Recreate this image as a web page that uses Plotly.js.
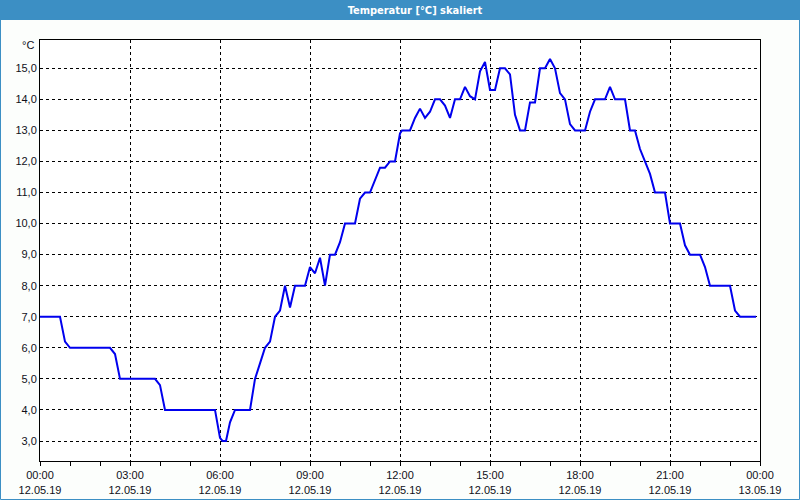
<!DOCTYPE html>
<html>
<head>
<meta charset="utf-8">
<script src="https://cdn.plot.ly/plotly-3.0.1.min.js"></script>
<style>html,body{margin:0;padding:0;background:#fcfefc;}#chart{width:800px;height:500px;}</style>
</head>
<body>
<div id="chart"></div>
<script>
// Measured series: time of day (12.05.19) and temperature in °C
const times = ['00:00','00:40','00:50','01:00','02:20','02:30','02:40','03:50','04:00','04:10',
  '05:50','06:00','06:05','06:12','06:20','06:30','07:00','07:10','07:20','07:30',
  '07:40','07:50','08:00','08:10','08:20','08:30','08:50','09:00','09:10','09:20',
  '09:30','09:40','09:50','10:00','10:10','10:30','10:40','10:50','11:00','11:20',
  '11:30','11:40','11:50','12:00','12:04','12:20','12:30','12:40','12:50','13:00',
  '13:10','13:20','13:30','13:40','13:50','14:00','14:10','14:20','14:30','14:40',
  '14:50','15:00','15:10','15:20','15:30','15:40','15:50','16:00','16:10','16:20',
  '16:30','16:40','16:50','17:00','17:10','17:20','17:30','17:40','17:50','18:10',
  '18:20','18:30','18:50','19:00','19:10','19:30','19:40','19:50','20:00','20:10',
  '20:20','20:30','20:50','21:00','21:20','21:30','21:40','22:00','22:10','22:20',
  '23:00','23:10','23:20','23:52'];
const temps = [7.0,7.0,6.2,6.0,6.0,5.8,5.0,5.0,4.8,4.0,
  4.0,3.1,3.0,3.0,3.6,4.0,4.0,5.0,5.5,6.0,
  6.2,7.0,7.2,8.0,7.3,8.0,8.0,8.6,8.4,8.9,
  8.0,9.0,9.0,9.4,10.0,10.0,10.8,11.0,11.0,11.8,
  11.8,12.0,12.0,12.9,13.0,13.0,13.4,13.7,13.4,13.6,
  14.0,14.0,13.8,13.4,14.0,14.0,14.4,14.1,14.0,14.9,
  15.2,14.3,14.3,15.0,15.0,14.8,13.5,13.0,13.0,13.9,
  13.9,15.0,15.0,15.3,15.0,14.2,14.0,13.2,13.0,13.0,
  13.6,14.0,14.0,14.4,14.0,14.0,13.0,13.0,12.4,12.0,
  11.6,11.0,11.0,10.0,10.0,9.3,9.0,9.0,8.6,8.0,
  8.0,7.2,7.0,7.0];
const tickVals = ['2019-05-12 00:00','2019-05-12 03:00','2019-05-12 06:00','2019-05-12 09:00',
  '2019-05-12 12:00','2019-05-12 15:00','2019-05-12 18:00','2019-05-12 21:00','2019-05-13 00:00'];
const tickText = ['00:00<br>12.05.19','03:00<br>12.05.19','06:00<br>12.05.19','09:00<br>12.05.19',
  '12:00<br>12.05.19','15:00<br>12.05.19','18:00<br>12.05.19','21:00<br>12.05.19','00:00<br>13.05.19'];
const yTicks = [3,4,5,6,7,8,9,10,11,12,13,14,15];

const x = times.map(t => '2019-05-12 ' + t);
const W = 720, H = 421;
const barColor = '#3c8fc4';

const trace = {
  x: x, y: temps, type: 'scatter', mode: 'lines',
  line: {color: '#0000ee', width: 2},
  hoverinfo: 'skip'
};

const layout = {
  width: 800, height: 500,
  margin: {l: 40, r: 40, t: 40, b: 39, pad: 0},
  paper_bgcolor: '#fcfefc',
  plot_bgcolor: '#ffffff',
  separators: ',.',
  showlegend: false,
  font: {family: 'Liberation Sans, Arial, sans-serif', size: 11, color: '#10101a'},
  title: {
    text: '<b>Temperatur [°C] skaliert</b>',
    font: {family: 'DejaVu Sans Condensed, Liberation Sans Narrow, sans-serif', size: 11, color: '#ffffff'},
    x: 415/800, xanchor: 'center', xref: 'container',
    y: 1 - 10/500, yanchor: 'middle', yref: 'container'
  },
  xaxis: {
    type: 'date',
    range: ['2019-05-12 00:00', '2019-05-13 00:00'],
    tickmode: 'array', tickvals: tickVals, ticktext: tickText,
    ticks: 'outside', ticklen: 4, tickcolor: '#000', tickwidth: 1,
    showline: true, linecolor: '#000', linewidth: 1, mirror: true,
    showgrid: true, gridcolor: '#000', gridwidth: 1, griddash: '3px,3px',
    zeroline: false,
    minor: {dtick: 3600000, tick0: '2019-05-12 00:00', ticks: 'outside', ticklen: 4, tickcolor: '#000', showgrid: false},
    fixedrange: true
  },
  yaxis: {
    range: [2.356, 15.91],
    tickmode: 'array', tickvals: yTicks, tickformat: '.1f',
    ticks: '', showline: true, linecolor: '#000', linewidth: 1, mirror: true,
    showgrid: true, gridcolor: '#000', gridwidth: 1, griddash: '3px,3px',
    zeroline: false, fixedrange: true
  },
  shapes: [
    {type: 'rect', xref: 'paper', yref: 'paper', layer: 'below',
     x0: -40/W, x1: 1 + 40/W, y0: 1 + 20/H, y1: 1 + 40/H,
     fillcolor: barColor, line: {width: 0}},
    {type: 'rect', xref: 'paper', yref: 'paper', layer: 'above',
     x0: -39.5/W, x1: 1 + 39.5/W, y0: -38.5/H, y1: 1 + 40/H,
     fillcolor: 'rgba(0,0,0,0)', line: {color: barColor, width: 1}}
  ],
  annotations: [
    {text: '°C', xref: 'paper', yref: 'paper', x: -4/W, y: 1 - 5/H,
     xanchor: 'right', yanchor: 'middle', showarrow: false,
     font: {family: 'Liberation Sans, Arial, sans-serif', size: 11, color: '#10101a'}}
  ]
};

Plotly.newPlot('chart', [trace], layout, {staticPlot: true, displayModeBar: false});
</script>
</body>
</html>
